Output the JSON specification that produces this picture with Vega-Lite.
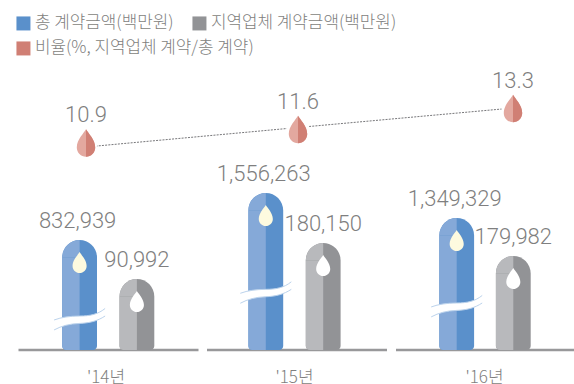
{
"$schema":"https://vega.github.io/schema/vega-lite/v6.json",
"width":574,"height":384,"padding":0,"autosize":{"type":"none"},"background":"white",
"config":{"view":{"stroke":null}},
"datasets":{
"bars":[
{"yr":2014,"series":"총 계약금액(백만원)","value":832939,"breakAt":38800},
{"yr":2014,"series":"지역업체 계약금액(백만원)","value":90992},
{"yr":2015,"series":"총 계약금액(백만원)","value":1556263,"breakAt":73000},
{"yr":2015,"series":"지역업체 계약금액(백만원)","value":180150},
{"yr":2016,"series":"총 계약금액(백만원)","value":1349329,"breakAt":55500},
{"yr":2016,"series":"지역업체 계약금액(백만원)","value":179982}],
"rates":[
{"yr":2014,"series":"비율(%, 지역업체 계약/총 계약)","rate":10.9},
{"yr":2015,"series":"비율(%, 지역업체 계약/총 계약)","rate":11.6},
{"yr":2016,"series":"비율(%, 지역업체 계약/총 계약)","rate":13.3}],
"years":[{"yr":2014,"label":"'14년"},{"yr":2015,"label":"'15년"},{"yr":2016,"label":"'16년"}]
},
"resolve":{"scale":{"x":"independent","y":"independent"}},
"layer":[
{"data":{"name":"rates"},
 "mark":{"type":"line","color":"#77777a","strokeWidth":1,"strokeDash":[2,1.2]},
 "encoding":{
  "x":{"field":"yr","type":"quantitative","axis":null,"scale":{"domain":[2014,2015,2016],"range":[86,298,513],"nice":false}},
  "y":{"field":"rate","type":"quantitative","axis":null,"scale":{"domain":[10.9,11.6,13.3],"range":[147,127.5,108],"nice":false}}}},
{"data":{"name":"rates"},
 "encoding":{
  "x":{"field":"yr","type":"quantitative","axis":null,"scale":{"domain":[2014,2015,2016],"range":[86,298,513],"nice":false}},
  "y":{"field":"rate","type":"quantitative","axis":null,"scale":{"domain":[10.9,11.6,13.3],"range":[143,129.5,108.5],"nice":false}}},
 "layer":[
  {"mark":{"type":"point","shape":"circle","filled":true,"size":531,"fill":"white","opacity":1}},
  {"mark":{"type":"point","filled":true,"opacity":1,"size":756,"shape":"M0 -1 C.15 -.72 .67 -.25 .67 .33 A.67 .67 0 0 1 -.67 .33 C-.67 -.25 -.15 -.72 0 -1 Z","fill":"#e3a89f"}},
  {"mark":{"type":"point","filled":true,"opacity":1,"size":756,"shape":"M0 -1 C.15 -.72 .67 -.25 .67 .33 A.67 .67 0 0 1 0 1 Z"},
   "encoding":{"color":{"field":"series","type":"nominal"}}},
  {"mark":{"type":"text","font":"Roboto","fontWeight":300,"fontSize":22,"color":"#7f7f80","yOffset":-28},
   "encoding":{"text":{"field":"rate","type":"quantitative","format":".1f"}}}
 ]},
{"data":{"name":"years"},
 "mark":{"type":"rule","stroke":"#98989a","strokeWidth":2.5,"xOffset":-90,"x2Offset":90},
 "encoding":{
  "x":{"field":"yr","type":"quantitative","axis":null,"scale":{"domain":[2014,2015,2016],"range":[108.5,297,486],"nice":false}},
  "x2":{"field":"yr"},
  "y":{"datum":0,"type":"quantitative","axis":null,"scale":{"domain":[0,1],"range":[350,300]}}}},
{"data":{"name":"years"},
 "mark":{"type":"text","font":"Noto Sans CJK KR","fontWeight":300,"fontSize":17,"color":"#7f7f80","baseline":"alphabetic"},
 "encoding":{
  "x":{"field":"yr","type":"quantitative","axis":null,"scale":{"domain":[2014,2015,2016],"range":[106,294.5,484.5],"nice":false}},
  "y":{"datum":0,"type":"quantitative","axis":null,"scale":{"domain":[0,1],"range":[383,300]}},
  "text":{"field":"label"}}},
{"data":{"name":"bars"},
 "transform":[{"filter":"datum.series==='지역업체 계약금액(백만원)'"}],
 "encoding":{
  "x":{"field":"yr","type":"quantitative","axis":null,"scale":{"domain":[2014,2015,2016],"range":[136.9,323.2,513.3],"nice":false,"padding":0}},
  "y":{"field":"value","type":"quantitative","axis":null,"scale":{"domain":[0,90992,179982,180150,832939,1349329,1556263],"range":[350,279,256,243,240,218,193],"nice":false}}
 },
 "layer":[
  {"mark":{"type":"bar","width":34.8,"cornerRadiusTopLeft":17.4,"cornerRadiusTopRight":17.4,"cornerRadiusBottomLeft":4,"cornerRadiusBottomRight":4},
   "encoding":{"y2":{"datum":0},"color":{"field":"series","type":"nominal"}}},
  {"mark":{"type":"bar","width":17.4,"xOffset":-8.7,"yOffset":17.4,"cornerRadiusBottomLeft":4,"fill":"#b8b9bc"},
   "encoding":{"y2":{"datum":0}}},
  {"mark":{"type":"point","filled":true,"opacity":1,"size":1211,"yOffset":17.4,"fill":"#b8b9bc","shape":"M0 0 L-1 0 A1 1 0 0 1 0 -1 Z"}},
  {"mark":{"type":"point","filled":true,"opacity":1,"size":441,"yOffset":22.5,"fill":"#ffffff","shape":"M0 -1 C.15 -.72 .67 -.25 .67 .33 A.67 .67 0 0 1 -.67 .33 C-.67 -.25 -.15 -.72 0 -1 Z"}},
  {"mark":{"type":"text","font":"Roboto","fontWeight":300,"fontSize":22,"color":"#7f7f80","yOffset":-19},
   "encoding":{"text":{"field":"value","type":"quantitative","format":","}}}
 ]},
{"data":{"name":"bars"},
 "transform":[{"filter":"datum.series==='총 계약금액(백만원)'"}],
 "encoding":{
  "x":{"field":"yr","type":"quantitative","axis":null,"scale":{"domain":[2014,2015,2016],"range":[79.6,265.8,456.7],"nice":false,"padding":0}},
  "y":{"field":"value","type":"quantitative","axis":null,"scale":{"domain":[0,90992,179982,180150,832939,1349329,1556263],"range":[350,279,256,243,240,218,193],"nice":false}}
 },
 "layer":[
  {"mark":{"type":"bar","width":34.8,"cornerRadiusTopLeft":17.4,"cornerRadiusTopRight":17.4,"cornerRadiusBottomLeft":4,"cornerRadiusBottomRight":4},
   "encoding":{"y2":{"datum":0},
    "color":{"field":"series","type":"nominal",
     "scale":{"domain":["총 계약금액(백만원)","지역업체 계약금액(백만원)","비율(%, 지역업체 계약/총 계약)"],"range":["#5a90cb","#929396","#d07f74"]},
     "legend":{"title":null,"orient":"none","legendX":15,"legendY":15,"direction":"horizontal","columns":2,"gridAlign":"none","symbolType":"square","symbolSize":196,"symbolStrokeWidth":0,"labelFont":"Noto Sans CJK KR","labelFontWeight":300,"labelFontSize":16.9,"labelColor":"#7f7f80","labelOffset":3,"columnPadding":-63,"rowPadding":7,"labelLimit":400}}}},
  {"mark":{"type":"bar","width":17.4,"xOffset":-8.7,"yOffset":17.4,"cornerRadiusBottomLeft":4,"fill":"#85a9d8"},
   "encoding":{"y2":{"datum":0}}},
  {"mark":{"type":"point","filled":true,"opacity":1,"size":1211,"yOffset":17.4,"fill":"#85a9d8","shape":"M0 0 L-1 0 A1 1 0 0 1 0 -1 Z"}},
  {"mark":{"type":"point","filled":true,"opacity":1,"size":441,"yOffset":22.5,"fill":"#fdfadf","shape":"M0 -1 C.15 -.72 .67 -.25 .67 .33 A.67 .67 0 0 1 -.67 .33 C-.67 -.25 -.15 -.72 0 -1 Z"}},
  {"transform":[{"filter":"isValid(datum.breakAt)"}],
   "mark":{"type":"point","filled":true,"opacity":1,"fill":"white","size":2601,"shape":"M-1 .01 C-.7 -.1 -.4 -.14 0 -.145 C.4 -.15 .7 -.2 1 -.44 L1 -.145 C.7 .05 .4 .13 0 .145 C-.4 .16 -.7 .24 -1 .4 Z"},
   "encoding":{"y":{"field":"breakAt","type":"quantitative"}}},
  {"transform":[{"filter":"isValid(datum.breakAt)"}],
   "mark":{"type":"point","filled":false,"opacity":1,"stroke":"#bcd3ec","strokeWidth":1,"size":2601,"shape":"M-1 .01 C-.7 -.1 -.4 -.14 0 -.145 C.4 -.15 .7 -.2 1 -.44 M1 -.145 C.7 .05 .4 .13 0 .145 C-.4 .16 -.7 .24 -1 .4"},
   "encoding":{"y":{"field":"breakAt","type":"quantitative"}}},
  {"mark":{"type":"text","font":"Roboto","fontWeight":300,"fontSize":22,"color":"#7f7f80","yOffset":-19,"xOffset":-2},
   "encoding":{"text":{"field":"value","type":"quantitative","format":","}}}
 ]}
]}
